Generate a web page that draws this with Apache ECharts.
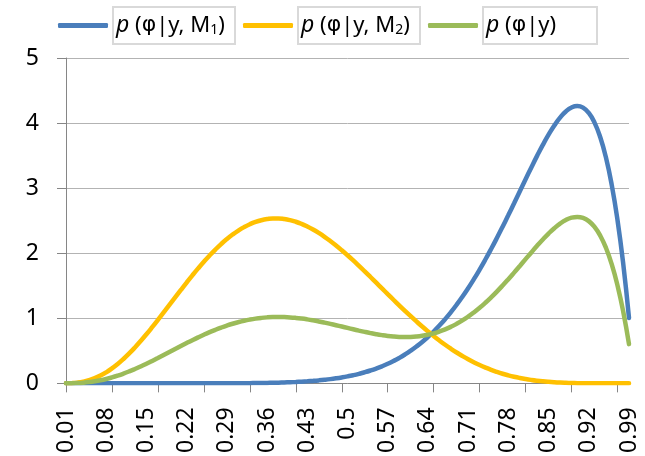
<!DOCTYPE html>
<html>
<head>
<meta charset="utf-8">
<script src="https://cdn.jsdelivr.net/npm/echarts@6/dist/echarts.min.js"></script>
<style>html,body{margin:0;padding:0;background:#fff;}#c{width:645px;height:456px;}</style>
</head>
<body>
<div id="c"></div>
<script>
var categories = ['0.01','0.02','0.03','0.04','0.05','0.06','0.07','0.08','0.09','0.1',
'0.11','0.12','0.13','0.14','0.15','0.16','0.17','0.18','0.19','0.2',
'0.21','0.22','0.23','0.24','0.25','0.26','0.27','0.28','0.29','0.3',
'0.31','0.32','0.33','0.34','0.35','0.36','0.37','0.38','0.39','0.4',
'0.41','0.42','0.43','0.44','0.45','0.46','0.47','0.48','0.49','0.5',
'0.51','0.52','0.53','0.54','0.55','0.56','0.57','0.58','0.59','0.6',
'0.61','0.62','0.63','0.64','0.65','0.66','0.67','0.68','0.69','0.7',
'0.71','0.72','0.73','0.74','0.75','0.76','0.77','0.78','0.79','0.8',
'0.81','0.82','0.83','0.84','0.85','0.86','0.87','0.88','0.89','0.9',
'0.91','0.92','0.93','0.94','0.95','0.96','0.97','0.98','0.99'];

var pM1 = [0,0,0,0,0,0,0,0,0,0,
0,0,0,0,0,0,0,0,0,0,
0.0001,0.0001,0.0002,0.0002,0.0003,0.0004,0.0006,0.0008,0.0011,0.0015,
0.0020,0.0026,0.0034,0.0044,0.0056,0.0072,0.0090,0.0113,0.0140,0.0173,
0.0212,0.0259,0.0315,0.0381,0.0458,0.0548,0.0652,0.0774,0.0914,0.1074,
0.1258,0.1468,0.1706,0.1976,0.2280,0.2621,0.3004,0.3432,0.3907,0.4434,
0.5017,0.5659,0.6363,0.7134,0.7974,0.8887,0.9876,1.0943,1.2089,1.3317,
1.4626,1.6016,1.7485,1.9031,2.0648,2.2332,2.4073,2.5862,2.7686,2.9528,
3.1370,3.3189,3.4958,3.6646,3.8217,3.9628,4.0833,4.1775,4.2393,4.2616,
4.2365,4.1550,4.0072,3.7818,3.4664,3.0472,2.5088,1.8343,1.0049];

var pM2 = [0.0005,0.0036,0.0117,0.0263,0.0488,0.0799,0.1203,0.1701,0.2293,0.2976,
0.3746,0.4596,0.5519,0.6506,0.7547,0.8634,0.9754,1.0897,1.2054,1.3212,
1.4362,1.5494,1.6598,1.7666,1.8688,1.9657,2.0565,2.1408,2.2178,2.2871,
2.3483,2.4012,2.4454,2.4808,2.5073,2.5249,2.5336,2.5336,2.5251,2.5082,
2.4834,2.4509,2.4111,2.3644,2.3114,2.2526,2.1883,2.1192,2.0459,1.9688,
1.8886,1.8057,1.7209,1.6345,1.5473,1.4597,1.3722,1.2852,1.1993,1.1148,
1.0322,0.9518,0.8739,0.7989,0.7270,0.6583,0.5932,0.5318,0.4740,0.4201,
0.3700,0.3238,0.2813,0.2427,0.2076,0.1762,0.1481,0.1233,0.1015,0.0826,
0.0663,0.0525,0.0409,0.0313,0.0235,0.0172,0.0123,0.0086,0.0057,0.0037,
0.0022,0.0013,0.0007,0.0003,0.0001,0,0,0,0];

var pAll = [0.0002,0.0015,0.0047,0.0105,0.0195,0.0320,0.0481,0.0680,0.0917,0.1190,
0.1498,0.1838,0.2208,0.2602,0.3019,0.3453,0.3901,0.4359,0.4821,0.5285,
0.5745,0.6198,0.6640,0.7068,0.7477,0.7865,0.8230,0.8568,0.8878,0.9158,
0.9405,0.9621,0.9802,0.9950,1.0063,1.0142,1.0188,1.0202,1.0184,1.0137,
1.0061,0.9959,0.9833,0.9686,0.9520,0.9339,0.9145,0.8941,0.8732,0.8520,
0.8309,0.8103,0.7907,0.7724,0.7557,0.7412,0.7291,0.7200,0.7141,0.7120,
0.7139,0.7202,0.7313,0.7476,0.7692,0.7966,0.8298,0.8693,0.9150,0.9670,
1.0255,1.0904,1.1616,1.2389,1.3220,1.4104,1.5036,1.6010,1.7018,1.8047,
1.9087,2.0123,2.1138,2.2113,2.3024,2.3846,2.4549,2.5099,2.5459,2.5584,
2.5428,2.4935,2.4046,2.2692,2.0799,1.8283,1.5053,1.1006,0.6029];

var seriesNames = ['M1', 'M2', 'all'];
var legendLabels = {
  'M1': '{i|p} ({g|φ}|y, M{s|1})',
  'M2': '{i|p} ({g|φ}|y, M{s|2})',
  'all': '{i|p} ({g|φ}|y)'
};
var colors = ['#4A7EBB', '#FFC000', '#9BBB59'];
var FONT = 'Noto Sans';

var chart = echarts.init(document.getElementById('c'), null, {renderer: 'canvas'});
var richStyles = {
  i: {fontFamily: FONT, fontSize: 23, fontStyle: 'italic', color: '#000'},
  g: {fontFamily: 'DejaVu Sans', fontSize: 22, color: '#000'},
  s: {fontFamily: FONT, fontSize: 14, color: '#000', padding: [9, 0, 0, 0]}
};
var option = {
  backgroundColor: '#fff',
  animation: false,
  color: colors,
  legend: {
    top: 1,
    left: 53,
    icon: 'roundRect',
    itemWidth: 50,
    itemHeight: 5,
    itemGap: 7,
    data: [
      {name: 'M1', textStyle: {width: 116}},
      {name: 'M2', textStyle: {width: 116}},
      {name: 'all', textStyle: {width: 108}}
    ],
    formatter: function (n) { return legendLabels[n]; },
    textStyle: {
      fontFamily: FONT, fontSize: 22, color: '#000',
      borderColor: '#d9d9d9', borderWidth: 2,
      padding: [3, 3, 3, 3], lineHeight: 31,
      rich: richStyles
    }
  },
  grid: {left: 66, right: 16, top: 58, bottom: 71, containLabel: false},
  xAxis: {
    type: 'category',
    data: categories,
    boundaryGap: false,
    axisLine: {lineStyle: {color: '#868686', width: 1}},
    axisTick: {show: true, interval: 7, length: 9, lineStyle: {color: '#868686'}},
    axisLabel: {interval: 6, rotate: 90, fontFamily: FONT, fontSize: 23, color: '#000', margin: 24},
    splitLine: {show: false}
  },
  yAxis: {
    type: 'value',
    min: 0, max: 5, interval: 1,
    axisLine: {show: true, lineStyle: {color: '#868686', width: 1}},
    axisTick: {show: true, length: 9, lineStyle: {color: '#868686'}},
    axisLabel: {fontFamily: FONT, fontSize: 23, color: '#000', margin: 27},
    splitLine: {lineStyle: {color: '#b3b3b3', width: 1}}
  },
  series: [
    {name: 'M1', type: 'line', data: pM1, smooth: true, symbol: 'none', lineStyle: {width: 4.5, color: colors[0], cap: 'round'}},
    {name: 'M2', type: 'line', data: pM2, smooth: true, symbol: 'none', lineStyle: {width: 4.5, color: colors[1], cap: 'round'}},
    {name: 'all', type: 'line', data: pAll, smooth: true, symbol: 'none', lineStyle: {width: 4.5, color: colors[2], cap: 'round'}}
  ]
};
chart.setOption(option);
</script>
</body>
</html>
